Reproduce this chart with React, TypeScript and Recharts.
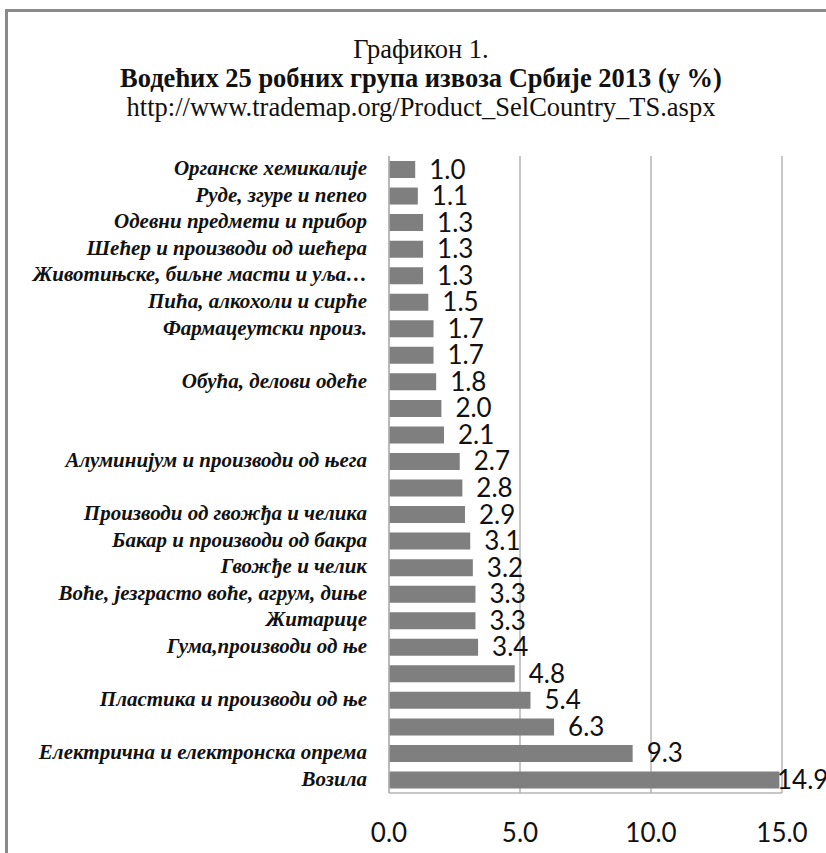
import { BarChart, Bar, XAxis, YAxis, CartesianGrid, LabelList } from 'recharts';

const categories = [
  'Органске хемикалије',
  'Руде, згуре и пепео',
  'Одевни предмети и прибор',
  'Шећер и производи од шећера',
  'Животињске, биљне масти и уља…',
  'Пића, алкохоли и сирће',
  'Фармацеутски произ.',
  '',
  'Обућа, делови одеће',
  '',
  '',
  'Алуминијум и производи од њега',
  '',
  'Производи од гвожђа и челика',
  'Бакар и производи од бакра',
  'Гвожђе и челик',
  'Воће, језграсто воће, агрум, диње',
  'Житарице',
  'Гума,производи од ње',
  '',
  'Пластика и производи од ње',
  '',
  'Електрична и електронска опрема',
  'Возила',
];

const shares = [
  1.0, 1.1, 1.3, 1.3, 1.3, 1.5, 1.7, 1.7, 1.8, 2.0, 2.1, 2.7, 2.8, 2.9, 3.1, 3.2, 3.3, 3.3, 3.4, 4.8,
  5.4, 6.3, 9.3, 14.9,
];

const xTicks = [0, 5, 10, 15];

const data = categories.map((name, i) => ({ name, value: shares[i] }));

const serif = '"Liberation Serif", "Times New Roman", serif';
const sans = 'Lato, "Noto Sans", sans-serif';

const CategoryTick = (props: any) => {
  const { x, y, payload } = props;
  return (
    <text
      x={x - 14}
      y={y}
      dy={6}
      textAnchor="end"
      fontFamily={serif}
      fontStyle="italic"
      fontWeight="bold"
      fontSize={21}
      fill="#111"
    >
      {payload.value}
    </text>
  );
};

const ValueLabel = (props: any) => {
  const { x, y, width, height, value } = props;
  const lx = Math.min(x + width + 14, 777);
  return (
    <text
      x={lx}
      y={y + height / 2}
      dy={9}
      fontFamily={sans}
      fontSize={26}
      fill="#111"
    >
      {Number(value).toFixed(1)}
    </text>
  );
};

const App = () => {
  return (
    <div
      style={{
        position: 'absolute',
        left: 0,
        top: 0,
        width: 826,
        height: 853,
        overflow: 'hidden',
        background: '#fff',
      }}
    >
      <div
        style={{
          position: 'absolute',
          left: 5,
          top: 9,
          width: 900,
          height: 900,
          border: '3px solid #8a8a8a',
        }}
      />
      <div
        style={{
          position: 'absolute',
          left: 0,
          top: 35,
          width: 842,
          textAlign: 'center',
          fontFamily: serif,
          fontSize: 26.5,
          lineHeight: '29px',
          color: '#111',
        }}
      >
        <div>Графикон 1.</div>
        <div style={{ fontWeight: 'bold' }}>Водећих 25 робних група извоза Србије 2013 (у %)</div>
        <div>http://www.trademap.org/Product_SelCountry_TS.aspx</div>
      </div>
      <div style={{ position: 'absolute', left: 0, top: 0 }}>
        <BarChart
          width={826}
          height={853}
          data={data}
          layout="vertical"
          margin={{ top: 156, right: 44, bottom: 0, left: 0 }}
          barSize={17}
        >
          <CartesianGrid horizontal={false} stroke="#b5b5b5" strokeWidth={1.5} />
          <XAxis
            type="number"
            domain={[0, 15]}
            ticks={xTicks}
            tickFormatter={(v: number) => v.toFixed(1)}
            height={60}
            tickSize={0}
            tickMargin={31}
            axisLine={{ stroke: '#b5b5b5', strokeWidth: 1.5 }}
            tickLine={false}
            tick={{ fontFamily: sans, fontSize: 26, fill: '#111' }}
            allowDataOverflow
          />
          <YAxis
            type="category"
            dataKey="name"
            width={389}
            tick={<CategoryTick />}
            tickLine={false}
            interval={0}
            axisLine={{ stroke: '#b5b5b5', strokeWidth: 1.5 }}
          />
          <Bar dataKey="value" fill="#7f7f7f" isAnimationActive={false}>
            <LabelList dataKey="value" content={<ValueLabel />} />
          </Bar>
        </BarChart>
      </div>
    </div>
  );
};

export default App;
